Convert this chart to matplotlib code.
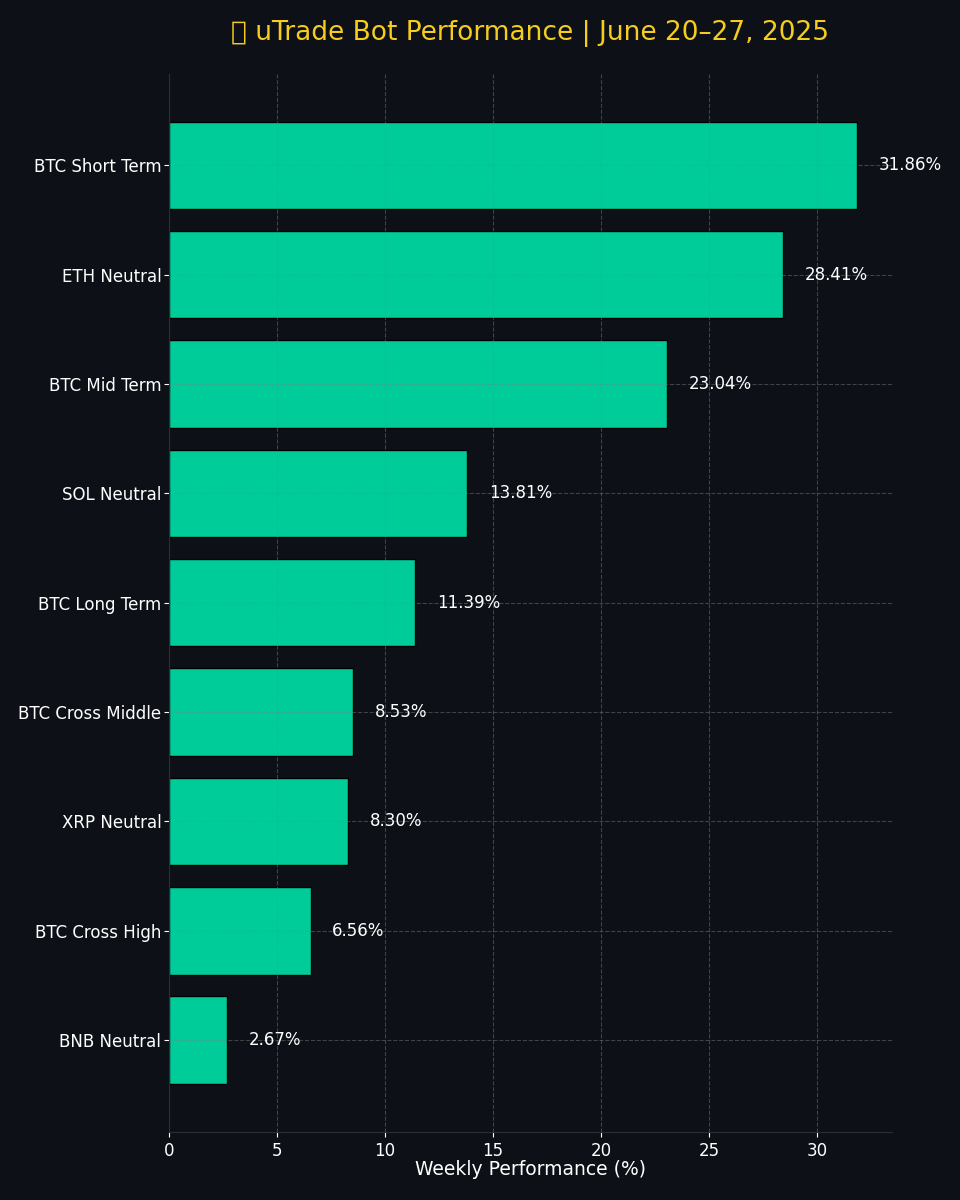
import matplotlib.pyplot as plt

# bot weekly results
bots = ['BTC Short Term', 'ETH Neutral', 'BTC Mid Term', 'SOL Neutral',
        'BTC Long Term', 'BTC Cross Middle', 'XRP Neutral', 'BTC Cross High',
        'BNB Neutral']
perf = [31.86, 28.41, 23.04, 13.81, 11.39, 8.53, 8.30, 6.56, 2.67]

bg = '#0d1117'
bar_color = '#00cc99'

fig = plt.figure(figsize=(9.6, 12), dpi=100, facecolor=bg)
ax = fig.add_axes([0.176, 0.0567, 0.753, 0.882])
ax.set_facecolor(bg)

ax.barh(bots, perf, color=bar_color, edgecolor='black', height=0.8)
ax.invert_yaxis()
ax.set_xlim(0, max(perf) * 1.05)

for i, v in enumerate(perf):
    ax.text(v + 1, i, f'{v:.2f}%', va='center', ha='left', color='white', fontsize=12)

ax.grid(True, color='gray', linestyle='--', alpha=0.45)
ax.set_xlabel('Weekly Performance (%)', color='white', fontsize=13.5, labelpad=0)
ax.tick_params(colors='white', labelsize=12)
ax.tick_params(axis='y', pad=2)
for s in ['top', 'right']:
    ax.spines[s].set_visible(False)
for s in ['left', 'bottom']:
    ax.spines[s].set_color('#2a2e35')

ax.set_title('\U0001F4CA uTrade Bot Performance | June 20\u201327, 2025',
             color='#f5cd1e', fontsize=19, pad=24)

fig.savefig('out.png', dpi=100, facecolor=bg)
